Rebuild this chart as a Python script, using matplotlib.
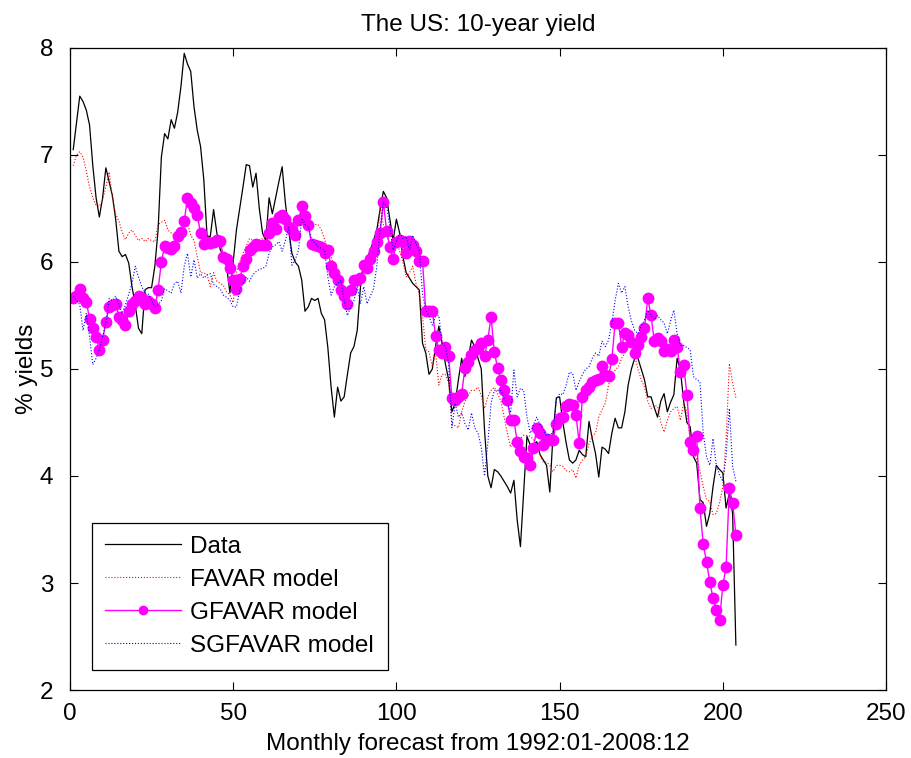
"""
Out-of-sample 10-year yield forecasts for the US, 1992:01-2008:12:
actual data against the FAVAR, GFAVAR and SGFAVAR models.
"""
import matplotlib
matplotlib.use("Agg")
import matplotlib.pyplot as plt
import numpy as np

# monthly values, % yields
data = [
    7.05, 7.3, 7.55, 7.5, 7.42, 7.28, 6.9, 6.6, 6.42, 6.6,
    6.88, 6.75, 6.62, 6.4, 6.1, 6.05, 6.07, 5.99, 5.77, 5.6,
    5.38, 5.33, 5.74, 5.76, 5.76, 5.96, 6.3, 6.98, 7.2, 7.15,
    7.33, 7.25, 7.4, 7.64, 7.95, 7.85, 7.78, 7.45, 7.23, 7.08,
    6.77, 6.24, 6.24, 6.49, 6.27, 6.12, 6.05, 5.96, 5.71, 6.0,
    6.3, 6.5, 6.7, 6.91, 6.9, 6.7, 6.83, 6.5, 6.27, 6.2,
    6.6, 6.45, 6.6, 6.75, 6.89, 6.55, 6.3, 6.08, 6.0,
    5.96, 5.83, 5.54, 5.58, 5.66, 5.64, 5.66, 5.52, 5.46, 5.2,
    4.83, 4.55, 4.83, 4.7, 4.74, 4.95, 5.15, 5.21, 5.36, 5.77,
    5.95, 6.03, 6.11, 6.2, 6.3, 6.49, 6.66, 6.6, 6.4, 6.2,
    6.4, 6.27, 6.05, 5.9, 5.85, 5.8, 5.77, 5.74, 5.24, 5.15,
    4.95, 5.0, 5.21, 5.4, 5.24, 5.05, 4.9, 4.6, 4.68, 4.9,
    5.1, 4.93, 5.1, 5.27, 5.21, 5.1, 5.0, 4.43, 4.0, 3.89,
    4.06, 4.04, 4.0, 3.95, 3.9, 3.84, 3.96, 3.59, 3.34, 3.85,
    4.37, 4.29, 4.3, 4.32, 4.2, 4.15, 4.1, 3.85, 4.4, 4.73,
    4.74, 4.5, 4.31, 4.15, 4.12, 4.15, 4.24, 4.2, 4.18, 4.51,
    4.35, 4.21, 3.99, 4.27, 4.25, 4.21, 4.4, 4.54, 4.45, 4.45,
    4.6, 4.85, 5.0, 5.1, 5.1, 5.0, 4.9, 4.74, 4.74, 4.64,
    4.55, 4.7, 4.77, 4.6, 4.69, 4.76, 5.1, 4.99, 4.7, 4.5,
    4.46, 4.18, 4.12, 3.78, 3.75, 3.53, 3.65, 3.9, 4.1, 4.06,
    4.03, 3.7, 3.84, 3.65, 2.42,
]

favar = [
    6.9, 7.0, 7.03, 6.98, 6.85, 6.7, 6.6, 6.53, 6.52, 6.58,
    6.7, 6.84, 6.6, 6.45, 6.38, 6.28, 6.21, 6.27, 6.3, 6.25,
    6.2, 6.22, 6.19, 6.22, 6.2, 6.19, 6.35, 6.37, 6.39, 6.3,
    6.27, 6.24, 6.26, 6.21, 6.33, 6.36, 6.25, 6.2, 6.05, 5.9,
    5.9, 5.88, 5.77, 5.9, 5.82, 5.8, 5.78, 5.72, 5.69, 5.62,
    5.9, 6.0, 6.08, 6.15, 6.22, 6.2, 6.21, 6.2, 6.22, 6.24,
    6.35, 6.37, 6.39, 6.42, 6.45, 6.4, 6.38, 6.35, 6.36,
    6.4, 6.47, 6.42, 6.38, 6.36, 6.35, 6.35, 6.3, 6.21, 6.12,
    6.05, 5.95, 5.88, 5.83, 5.76, 5.74, 5.77, 5.8, 5.84, 5.88,
    5.92, 5.96, 6.0, 6.03, 6.05, 6.52, 6.35, 6.27, 6.14, 6.18,
    6.2, 6.1, 6.0, 5.86, 5.9, 5.96, 5.8, 5.7, 5.5, 5.18,
    5.16, 5.02, 5.16, 4.85, 4.95, 4.95, 4.87, 4.49, 4.47, 4.45,
    4.6, 4.7, 4.75, 4.8, 4.8, 4.83, 4.75, 4.63, 4.74, 4.8,
    4.83, 4.77, 4.7, 4.55, 4.4, 4.27, 4.35, 4.31, 4.35, 4.38,
    4.38, 4.37, 4.34, 4.28, 4.2, 4.13, 4.13, 4.1, 4.04, 4.1,
    4.1, 4.09, 4.05, 4.04, 4.06, 3.98, 4.1, 4.15, 4.18, 4.3,
    4.37, 4.4, 4.55, 4.62, 4.68, 4.85, 4.95, 4.99, 5.02, 5.1,
    5.15, 5.22, 5.2, 5.13, 5.0, 4.9, 4.83, 4.7, 4.63, 4.66,
    4.65, 4.5, 4.41, 4.52, 4.6, 4.63, 4.65, 4.52, 4.68, 4.6,
    4.34, 4.25, 4.15, 4.05, 3.9, 3.78, 3.76, 3.64, 3.65, 3.75,
    3.9, 4.34, 5.05, 4.87, 4.73,
]

gfavar = [
    5.66, 5.68, 5.75, 5.66, 5.63, 5.47, 5.38, 5.3, 5.18, 5.27,
    5.44, 5.58, 5.6, 5.61, 5.49, 5.46, 5.41, 5.54, 5.61, 5.64,
    5.68, 5.66, 5.61, 5.64, 5.61, 5.57, 5.74, 6.0, 6.15, 6.13,
    6.12, 6.15, 6.24, 6.28, 6.38, 6.6, 6.55, 6.5, 6.44, 6.27,
    6.17, 6.19, 6.18, 6.19, 6.21, 6.2, 6.05, 6.03, 5.94, 5.83,
    5.75, 5.84, 5.96, 6.03, 6.11, 6.14, 6.17, 6.16, 6.16, 6.16,
    6.27, 6.36, 6.31, 6.42, 6.44, 6.4, 6.33, 6.3, 6.25,
    6.39, 6.52, 6.43, 6.35, 6.17, 6.16, 6.15, 6.14, 6.08, 6.11,
    5.96, 5.9, 5.83, 5.74, 5.68, 5.61, 5.74, 5.83, 5.83, 5.85,
    5.97, 5.94, 6.03, 6.1, 6.19, 6.27, 6.56, 6.29, 6.14, 6.03,
    6.19, 6.21, 6.19, 6.08, 6.2, 6.16, 6.1, 6.01, 6.01, 5.54,
    5.54, 5.54, 5.31, 5.18, 5.15, 5.21, 5.12, 4.73, 4.71, 4.74,
    4.77, 5.01, 5.07, 5.13, 5.18, 5.2, 5.24, 5.12, 5.27, 5.49,
    5.16, 5.01, 4.9, 4.8, 4.71, 4.52, 4.52, 4.32, 4.23, 4.18,
    4.17, 4.1, 4.26, 4.45, 4.4, 4.29, 4.35, 4.34, 4.34, 4.49,
    4.54, 4.55, 4.65, 4.67, 4.66, 4.57, 4.31, 4.74, 4.8, 4.83,
    4.88, 4.9, 4.91, 5.03, 4.94, 4.93, 5.09, 5.43, 5.43, 5.21,
    5.34, 5.32, 5.25, 5.15, 5.22, 5.3, 5.38, 5.66, 5.5, 5.26,
    5.29, 5.26, 5.17, 5.19, 5.17, 5.27, 5.21, 4.97, 5.04, 4.76,
    4.32, 4.24, 4.37, 3.7, 3.36, 3.2, 3.01, 2.86, 2.75, 2.65,
    2.98, 3.15, 3.89, 3.75, 3.45,
]

sgfavar = [
    5.68, 5.64, 5.6, 5.36, 5.52, 5.3, 5.04, 5.1, 5.18, 5.3,
    5.43, 5.66, 5.64, 5.68, 5.6, 5.52, 5.6, 5.7, 5.8, 5.96,
    5.86, 5.77, 5.71, 5.7, 5.64, 5.58, 5.6, 5.64, 5.75, 5.73,
    5.71, 5.8, 5.82, 5.71, 5.96, 6.08, 5.86, 6.02, 5.85, 5.89,
    5.85, 5.88, 5.89, 5.79, 5.77, 5.75, 5.69, 5.67, 5.64, 5.58,
    5.58, 5.74, 5.8, 5.86, 5.82, 5.88, 5.91, 5.93, 5.94, 5.96,
    6.08, 6.14, 6.16, 6.19, 6.1, 6.2, 6.33, 5.97, 6.02,
    6.11, 6.41, 6.35, 6.33, 6.21, 6.18, 6.14, 6.13, 6.11, 5.86,
    5.69, 5.77, 5.8, 5.83, 5.64, 5.5, 5.58, 5.64, 5.77, 5.61,
    5.77, 5.61, 5.68, 5.75, 5.96, 6.3, 6.56, 6.52, 6.33, 6.11,
    6.19, 6.27, 6.22, 6.24, 6.11, 6.25, 6.17, 6.11, 5.7, 5.55,
    5.49, 5.41, 5.49, 5.5, 5.24, 5.21, 5.05, 4.45, 4.68, 4.55,
    4.59, 4.49, 4.43, 4.59, 4.45, 4.4, 4.27, 4.0, 4.3, 4.68,
    4.8, 4.8, 4.8, 4.72, 4.68, 4.59, 4.99, 4.74, 4.82, 4.8,
    4.55, 4.4, 4.48, 4.55, 4.48, 4.43, 4.38, 4.39, 4.4, 4.71,
    4.77, 4.76, 4.85, 4.97, 4.96, 4.8, 4.88, 4.95, 5.0, 5.02,
    5.1, 5.15, 5.12, 5.26, 5.21, 5.27, 5.43, 5.64, 5.8, 5.71,
    5.77, 5.58, 5.45, 5.36, 5.33, 5.4, 5.46, 5.55, 5.5, 5.46,
    5.5, 5.46, 5.43, 5.33, 5.45, 5.55, 5.33, 5.22, 5.22, 5.2,
    5.18, 4.93, 4.9, 4.88, 4.4, 4.18, 4.1, 4.35, 4.1, 4.01,
    3.95, 4.18, 4.63, 4.09, 3.95,
]

series_labels = ["Data", "FAVAR model", "GFAVAR model", "SGFAVAR model"]
x_ticks = [0, 50, 100, 150, 200, 250]
y_ticks = [2, 3, 4, 5, 6, 7, 8]

plt.rcParams["font.family"] = ["Liberation Sans", "DejaVu Sans"]
plt.rcParams["font.size"] = 17.5

fig = plt.figure(figsize=(9.11, 7.58), dpi=100)
ax = fig.add_axes([0.0768, 0.0897, 0.8958, 0.847])

months = np.arange(1, len(data) + 1)
ax.plot(months, data, color="black", lw=0.9, label=series_labels[0])
ax.plot(months, favar, color="red", lw=0.8, ls=":", label=series_labels[1])
ax.plot(months, gfavar, color="#ff00ff", lw=1.0, marker="o", ms=7.5,
        mfc="#ff00ff", mec="#ff00ff", label=series_labels[2])
ax.plot(months, sgfavar, color="blue", lw=0.8, ls=":", label=series_labels[3])

ax.set_xlim(0, 250)
ax.set_ylim(2, 8)
ax.set_xticks(x_ticks)
ax.set_yticks(y_ticks)
ax.tick_params(direction="in", top=True, right=True, length=6, width=0.8)
ax.tick_params(axis="y", pad=12)
ax.tick_params(axis="x", pad=9)
for sp in ax.spines.values():
    sp.set_linewidth(0.9)

ax.set_title("The US: 10-year yield", fontsize=17.5, pad=12)
ax.set_xlabel("Monthly forecast from 1992:01-2008:12", labelpad=6)
ax.set_ylabel("% yields", labelpad=1)

leg = ax.legend(loc="lower left", bbox_to_anchor=(0.027, 0.031),
                borderaxespad=0, fancybox=False, framealpha=1,
                edgecolor="black", handlelength=3.1, handletextpad=0.4,
                labelspacing=0.45, borderpad=0.55, markerscale=0.8)
leg.get_frame().set_linewidth(0.9)

fig.savefig("out.png", dpi=100)
